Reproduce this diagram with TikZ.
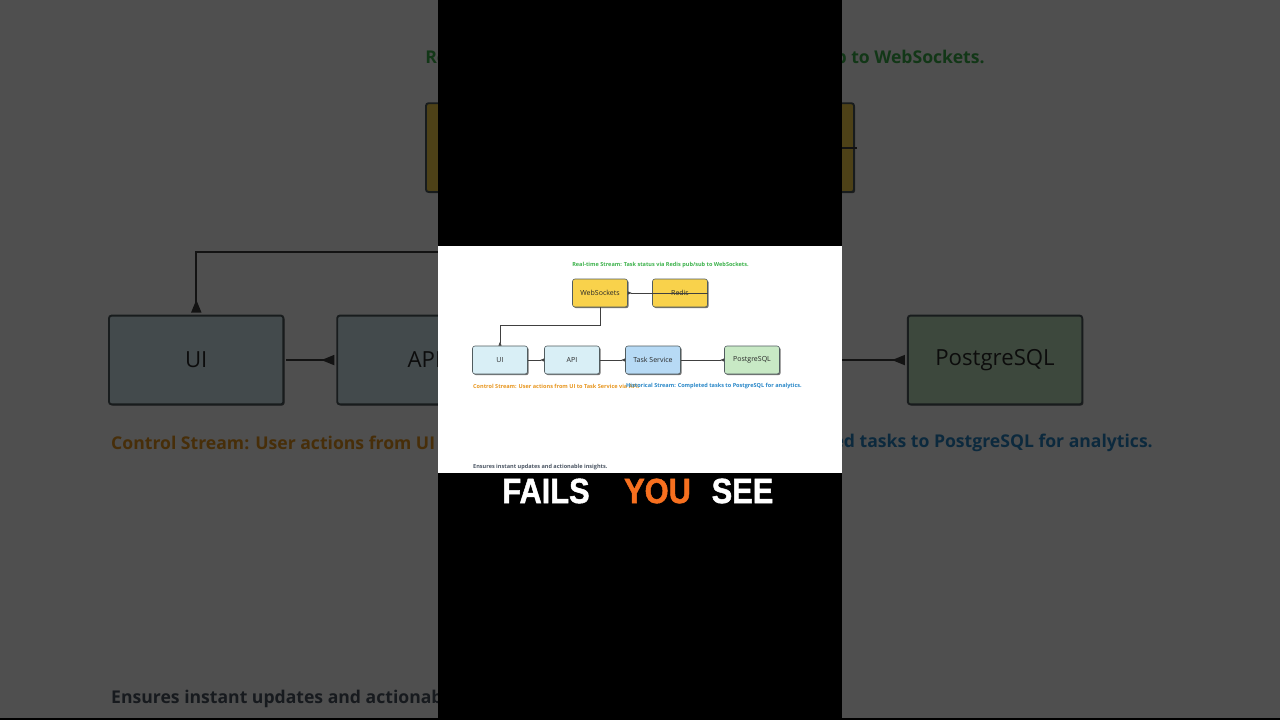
\documentclass[tikz,border=0pt]{standalone}
\usepackage{fontspec}
\setmainfont{Open Sans}
\newfontfamily\capfont[FakeBold=1.5]{Liberation Sans Bold}
\usetikzlibrary{arrows.meta,shadows}
\definecolor{ygold}{RGB}{249,210,75}
\definecolor{ycyan}{RGB}{217,239,246}
\definecolor{yblue}{RGB}{183,218,245}
\definecolor{ygreen}{RGB}{200,233,197}
\definecolor{bordc}{RGB}{80,92,95}
\definecolor{txtd}{RGB}{40,40,40}
\definecolor{tgreen}{RGB}{60,178,75}
\definecolor{torange}{RGB}{232,150,30}
\definecolor{tblue}{RGB}{40,135,200}
\definecolor{tslate}{RGB}{75,85,99}
\definecolor{caporange}{RGB}{247,112,31}
\newif\ifhidetext
\newcommand\hid[1]{\ifhidetext\else#1\fi}
\newcommand\mydiagram{%
  \node[box, fill=ygold] (ws) at (600,293) {\hid{WebSockets}};
  \node[box, fill=ygold] (redis) at (680,293) {\hid{Redis}};
  \node[box, fill=ycyan] (ui) at (500,360) {UI};
  \node[box, fill=ycyan] (api) at (572,360) {API};
  \node[box, fill=yblue] (task) at (653,360) {\hid{Task Service}};
  \node[box, fill=ygreen] (pg) at (752,360) {PostgreSQL};
  \node[lbl, text=tgreen, anchor=center] (title) at (660.5,265) {Real-time Stream: Task status via Redis pub/sub to WebSockets.};
  \node[lbl, text=torange] (ctrl) at (473,386) {Control Stream: User actions from UI to Task Service via API.};
  \node[lbl, text=tblue] (hist) at (626,386) {Historical Stream: Completed tasks to PostgreSQL for analytics.};
  \node[lbl, text=tslate] (ens) at (473,467) {Ensures instant updates and actionable insights.};
  \draw[conn] (redis.east) -- (ws.east);
  \draw[conn] (ws.south) -- ++(0,18) -| (ui.north);
  \draw[conn] (ui.east) -- (api.west);
  \draw[conn] (api.east) -- (task.west);
  \draw[conn] (task.east) -- (pg.west);
}
\begin{document}
\begin{tikzpicture}[x=1pt,y=-1pt,
  box/.style={draw=bordc, line width=\lw, rounded corners=2.5pt,
    minimum width=55pt, minimum height=28pt, inner sep=0pt,
    font=\fontsize{7}{8}\selectfont, text=txtd,
    drop shadow={shadow xshift=\sh, shadow yshift=-\sh, opacity=0.55, fill=black}},
  lbl/.style={inner sep=0pt, anchor=west, font=\fontsize{5.55}{6}\selectfont\bfseries},
  conn/.style={draw=black!75, line width=\lw, -{Triangle[reversed,length=\tl,width=\tw]}},
  capw/.style={inner sep=0pt, font=\capfont\fontsize{35}{35}\selectfont, xscale=0.88, transform shape}]
\useasboundingbox (0,0) rectangle (1280,720);
\fill[white] (0,0) rectangle (1280,720);
% enlarged, dimmed background copy
\def\lw{1.9pt}\def\tl{13pt}\def\tw{10pt}\def\sh{1.2pt}
\hidetexttrue
\begin{scope}[name prefix=bg-, shift={(640,360)}, scale=3.17, shift={(-640,-360)}, transform shape]
  \mydiagram
\end{scope}
\hidetextfalse
\fill[black, opacity=0.69] (0,0) rectangle (1280,720);
% central black band
\fill[black] (438,0) rectangle (842,720);
\fill[white] (438,246) rectangle (842,473);
% foreground diagram
\def\lw{0.6pt}\def\tl{4pt}\def\tw{3pt}\def\sh{1.2pt}
\begin{scope}[name prefix=fg-]
  \mydiagram
\end{scope}
% caption
\node[capw, text=white] (cap1) at (546,491) {FAILS};
\node[capw, text=caporange] (cap2) at (657.5,491) {YOU};
\node[capw, text=white] (cap3) at (742.5,491) {SEE};
\fill[black] (0,717.5) rectangle (1280,720);
\end{tikzpicture}
\end{document}
